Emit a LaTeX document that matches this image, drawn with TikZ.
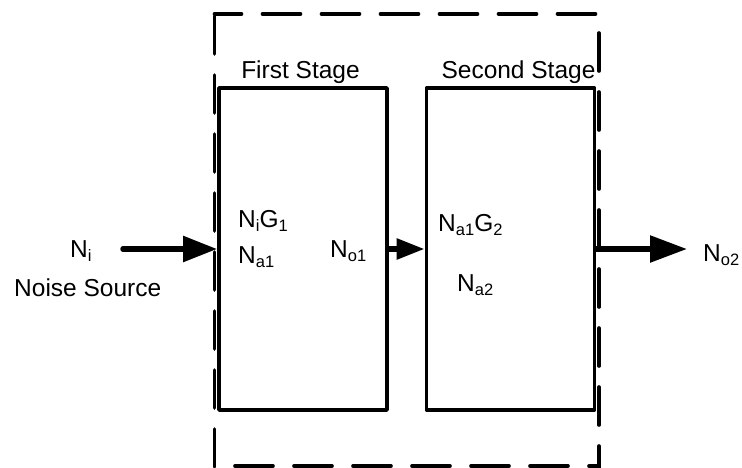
\documentclass[tikz,border=0pt]{standalone}
\usepackage{fontspec}
\setmainfont{Liberation Sans}
\usetikzlibrary{arrows.meta}
\newcommand\sbs[1]{\raisebox{-0.2em}{\fontsize{16.5}{16.5}\selectfont #1}}
\begin{document}
\begin{tikzpicture}[x=1pt,y=-1pt,
  lbl/.style={anchor=base west, inner sep=0pt, font=\fontsize{24.5}{28}\selectfont},
  ttl/.style={anchor=base, inner sep=0pt, font=\fontsize{24.5}{28}\selectfont},
  stagebox/.style={draw, line width=3.8pt, line join=round, minimum width=168pt, minimum height=322pt, inner sep=0pt},
  bound/.style={line width=3.6pt, line cap=round, dash pattern=on 38pt off 21pt},
  sig/.style={line width=5.5pt, line cap=round}]
\useasboundingbox (0,0) rectangle (742,467);

% stages
\node[stagebox] (s1) at (303,249) {};
\node[stagebox] (s2) at (510.5,249) {};

% dashed system boundary
\coordinate (tl) at (214.5,14);
\coordinate (tr) at (599,14);
\coordinate (bl) at (214.5,466);
\coordinate (br) at (599,466);
\draw[bound, dash phase=11pt] (tl) -- (tr);
\draw[bound, dash phase=0pt] (214.5,16) -- (bl|-0,470);
\draw[bound, dash phase=40pt] (tr) -- (br|-0,470);
\draw[bound, dash phase=38.5pt] (bl) -- (br);

% signals
\coordinate (in) at (123,249);
\coordinate (out) at (687,249);
\draw[sig, -{Triangle[length=34pt,width=25pt]}] (in) -- (s1.west);
\draw[sig, -{Triangle[length=28pt,width=20pt]}] (s1.east) -- (s2.west);
\draw[sig, -{Triangle[length=37pt,width=26pt]}] (s2.east) -- (out);

% titles
\node[ttl] (t1) at (300.5,78) {First Stage};
\node[ttl] (t2) at (518.5,78) {Second Stage};

% labels
\node[lbl] (ni) at (70,257) {N\sbs{i}};
\node[lbl] (ns) at (14,296) {Noise Source};
\node[lbl] (nig) at (238,227) {N\sbs{i}G\sbs{1}};
\node[lbl] (na1) at (238,263) {N\sbs{a1}};
\node[lbl] (no1) at (330,257) {N\sbs{o1}};
\node[lbl] (nag) at (438,231) {N\sbs{a1}G\sbs{2}};
\node[lbl] (na2) at (457,291) {N\sbs{a2}};
\node[lbl] (no2) at (703,261) {N\sbs{o2}};
\end{tikzpicture}
\end{document}
